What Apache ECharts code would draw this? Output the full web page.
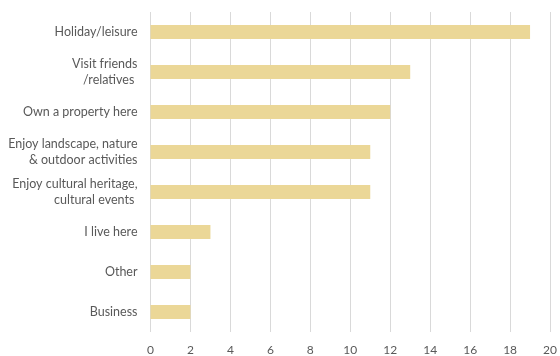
<!DOCTYPE html>
<html><head><meta charset="utf-8">
<script src="https://cdn.jsdelivr.net/npm/echarts@6/dist/echarts.min.js"></script>
<style>html,body{margin:0;padding:0;background:#fff}#c{width:560px;height:356px}</style>
</head><body><div id="c"></div>
<script>
var categories = ["Holiday/leisure", "Visit friends\n/relatives ", "Own a property here", "Enjoy landscape, nature\n& outdoor activities", "Enjoy cultural heritage,\ncultural events ", "I live here", "Other", "Business"];
var values = [19, 13, 12, 11, 11, 3, 2, 2];
var xTicks = [0, 2, 4, 6, 8, 10, 12, 14, 16, 18, 20];

var chart = echarts.init(document.getElementById('c'), null, {renderer: 'canvas'});
chart.setOption({
  animation: false,
  backgroundColor: '#ffffff',
  grid: {left: 150.5, right: 5, top: 12, bottom: 24, containLabel: false},
  xAxis: {
    type: 'value', min: xTicks[0], max: xTicks[xTicks.length - 1], interval: 2,
    axisLine: {show: false}, axisTick: {show: false},
    splitLine: {show: true, lineStyle: {color: '#d9d9d9', width: 1}},
    axisLabel: {color: '#595959', fontFamily: 'Lato', fontSize: 12, margin: 12}
  },
  yAxis: {
    type: 'category', data: categories, inverse: true,
    axisLine: {show: false}, axisTick: {show: false},
    axisLabel: {color: '#595959', fontFamily: 'Lato', fontSize: 12.5, margin: 13, lineHeight: 16, align: 'right'}
  },
  series: [{
    type: 'bar', data: values, barWidth: 14,
    itemStyle: {color: '#EBD797'}
  }]
});
</script></body></html>
